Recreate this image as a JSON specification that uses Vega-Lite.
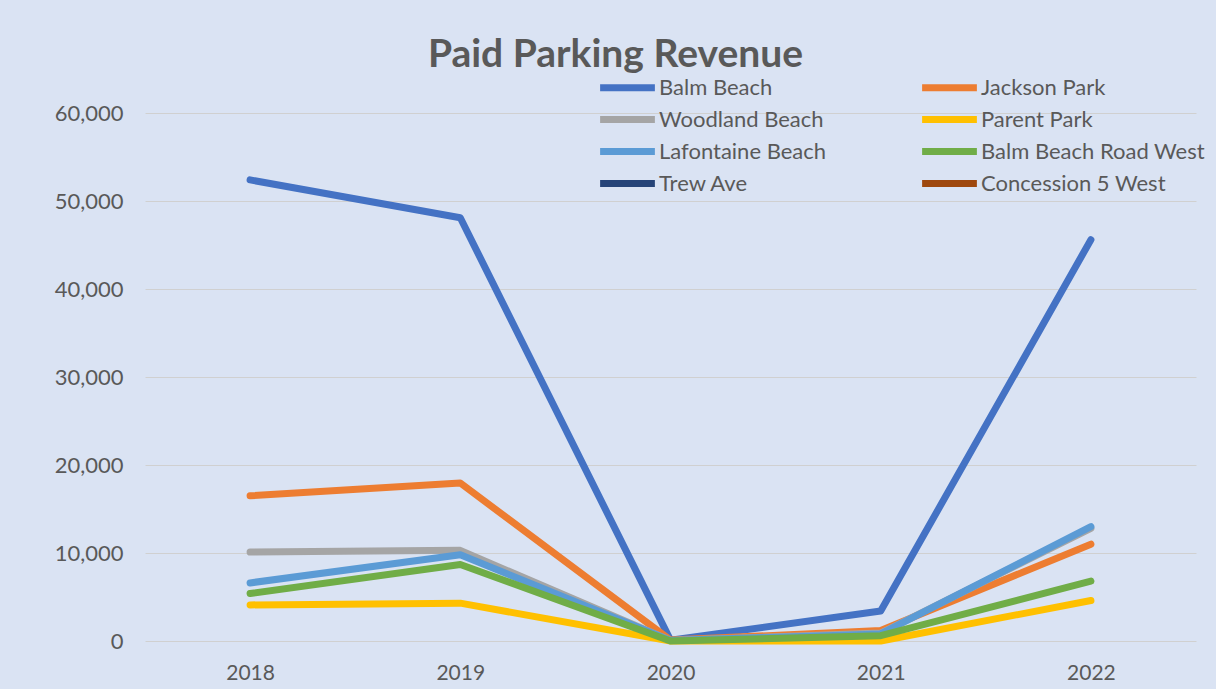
{
  "$schema": "https://vega.github.io/schema/vega-lite/v6.json",
  "autosize": "none",
  "width": 1051,
  "height": 528,
  "padding": {"left": 145, "top": 113, "right": 20, "bottom": 48},
  "background": "#DAE3F3",
  "config": {
    "font": "Lato",
    "view": {"stroke": null}
  },
  "title": {
    "text": "Paid Parking Revenue",
    "fontSize": 39,
    "fontWeight": "bold",
    "color": "#595959",
    "font": "Lato",
    "anchor": "middle",
    "dx": -55,
    "offset": -5
  },
  "data": {
    "values": [
      {"year": "2018", "site": "Balm Beach", "revenue": 52400},
      {"year": "2019", "site": "Balm Beach", "revenue": 48100},
      {"year": "2020", "site": "Balm Beach", "revenue": 100},
      {"year": "2021", "site": "Balm Beach", "revenue": 3400},
      {"year": "2022", "site": "Balm Beach", "revenue": 45600},
      {"year": "2018", "site": "Jackson Park", "revenue": 16500},
      {"year": "2019", "site": "Jackson Park", "revenue": 17950},
      {"year": "2020", "site": "Jackson Park", "revenue": 100},
      {"year": "2021", "site": "Jackson Park", "revenue": 1200},
      {"year": "2022", "site": "Jackson Park", "revenue": 11000},
      {"year": "2018", "site": "Woodland Beach", "revenue": 10100},
      {"year": "2019", "site": "Woodland Beach", "revenue": 10300},
      {"year": "2020", "site": "Woodland Beach", "revenue": 50},
      {"year": "2021", "site": "Woodland Beach", "revenue": 900},
      {"year": "2022", "site": "Woodland Beach", "revenue": 12800},
      {"year": "2018", "site": "Parent Park", "revenue": 4100},
      {"year": "2019", "site": "Parent Park", "revenue": 4300},
      {"year": "2020", "site": "Parent Park", "revenue": 0},
      {"year": "2021", "site": "Parent Park", "revenue": 0},
      {"year": "2022", "site": "Parent Park", "revenue": 4600},
      {"year": "2018", "site": "Lafontaine Beach", "revenue": 6600},
      {"year": "2019", "site": "Lafontaine Beach", "revenue": 9800},
      {"year": "2020", "site": "Lafontaine Beach", "revenue": 50},
      {"year": "2021", "site": "Lafontaine Beach", "revenue": 800},
      {"year": "2022", "site": "Lafontaine Beach", "revenue": 13000},
      {"year": "2018", "site": "Balm Beach Road West", "revenue": 5400},
      {"year": "2019", "site": "Balm Beach Road West", "revenue": 8700},
      {"year": "2020", "site": "Balm Beach Road West", "revenue": 0},
      {"year": "2021", "site": "Balm Beach Road West", "revenue": 600},
      {"year": "2022", "site": "Balm Beach Road West", "revenue": 6800}
    ]
  },
  "mark": {"type": "line", "strokeWidth": 7, "strokeCap": "round", "strokeJoin": "round"},
  "encoding": {
    "x": {
      "field": "year",
      "type": "ordinal",
      "scale": {"type": "point", "padding": 0.5},
      "axis": {
        "title": null,
        "labelAngle": 0,
        "labelFontSize": 21,
        "labelColor": "#595959",
        "labelFont": "Lato",
        "domain": false,
        "ticks": false,
        "grid": false,
        "labelPadding": 21
      }
    },
    "y": {
      "field": "revenue",
      "type": "quantitative",
      "scale": {"domain": [0, 60000]},
      "axis": {
        "title": null,
        "values": [0, 10000, 20000, 30000, 40000, 50000, 60000],
        "format": ",.0f",
        "labelFontSize": 22,
        "labelColor": "#595959",
        "labelFont": "Lato",
        "domain": false,
        "ticks": false,
        "labelPadding": 22,
        "gridColor": "#D0D0D0",
        "gridWidth": 1
      }
    },
    "color": {
      "field": "site",
      "type": "nominal",
      "sort": ["Balm Beach", "Jackson Park", "Woodland Beach", "Parent Park", "Lafontaine Beach", "Balm Beach Road West", "Trew Ave", "Concession 5 West"],
      "scale": {
        "domain": ["Balm Beach", "Jackson Park", "Woodland Beach", "Parent Park", "Lafontaine Beach", "Balm Beach Road West", "Trew Ave", "Concession 5 West"],
        "range": ["#4472C4", "#ED7D31", "#A5A5A5", "#FFC000", "#5B9BD5", "#70AD47", "#264478", "#9E480E"]
      },
      "legend": {
        "title": null,
        "orient": "none",
        "legendX": 465,
        "legendY": -43,
        "direction": "horizontal",
        "columns": 2,
        "columnPadding": 81,
        "rowPadding": 0,
        "symbolType": "M-2,0H2",
        "symbolSize": 750,
        "symbolStrokeWidth": 7,
        "labelFontSize": 22,
        "labelColor": "#595959",
        "labelFont": "Lato",
        "labelOffset": 14,
        "labelLimit": 300
      }
    },
    "order": {"field": "year"}
  }
}
